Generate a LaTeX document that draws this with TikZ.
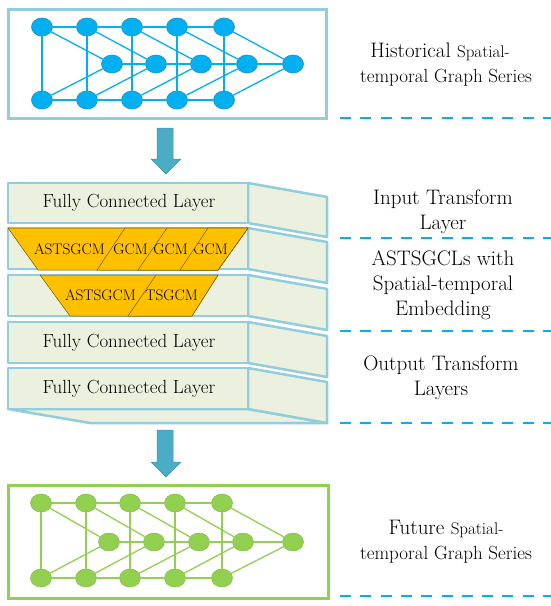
\documentclass[tikz,border=0pt]{standalone}
\usepackage{fontspec}
\usetikzlibrary{shapes.geometric}
\definecolor{frameblue}{RGB}{146,205,221}
\definecolor{layerfill}{RGB}{235,241,222}
\definecolor{nodeblue}{RGB}{0,176,240}
\definecolor{nodeblueline}{RGB}{30,140,200}
\definecolor{nodegreen}{RGB}{146,208,80}
\definecolor{arrowblue}{RGB}{75,172,198}
\definecolor{gcmorange}{RGB}{255,192,0}
\definecolor{dashblue}{RGB}{0,176,240}
\newcommand{\bigsz}{\fontsize{21}{25}\selectfont}
\newcommand{\midsz}{\fontsize{19}{25}\selectfont}
\newcommand{\smlsz}{\fontsize{17}{25}\selectfont}
\tikzset{
  gnode/.style={ellipse, minimum width=21pt, minimum height=18pt, inner sep=0pt},
  bnode/.style={gnode, fill=nodeblue, draw=nodeblueline, line width=0.6pt},
  grnode/.style={gnode, fill=nodegreen, draw=nodegreen!85!black, line width=0.4pt},
  bedge/.style={draw=nodeblue, line width=1.3pt},
  gedge/.style={draw=nodegreen, line width=1.3pt},
  bframe/.style={draw=frameblue, line width=3pt},
  gframe/.style={draw=nodegreen, line width=3pt},
  layerface/.style={fill=layerfill, draw=frameblue, line width=2.5pt, line join=round},
  gcm/.style={fill=gcmorange, draw=black!55!gcmorange, line width=0.5pt},
  sepline/.style={draw=dashblue, line width=2pt, dash pattern=on 11pt off 9.3pt},
  blockarrow/.style={fill=arrowblue, draw=arrowblue!85!black, line width=0.5pt},
  lbl/.style={font=\bigsz, align=center, inner sep=0pt},
  fcl/.style={font=\fontsize{19}{22}\selectfont, inner sep=0pt},
  gcmtext/.style={font=\fontsize{15.3}{18}\selectfont, inner sep=0pt}
}
\begin{document}
\begin{tikzpicture}[x=1pt,y=-1pt]
\useasboundingbox (0,0) rectangle (550,606);
% ---------- top graph ----------
\node[bframe, minimum width=318pt, minimum height=109pt, inner sep=0pt] (topbox) at (167,63.5) {};
\foreach \i/\x in {1/42,2/87,3/132,4/177,5/224}{
  \node[bnode] (ht\i) at (\x,27) {};
  \node[bnode] (hb\i) at (\x,100) {};
}
\foreach \i/\x in {1/112,2/156,3/201,4/247,5/293}{
  \node[bnode] (hm\i) at (\x,64) {};
}
\foreach \i in {1,...,5}{
  \draw[bedge] (ht\i) -- (hb\i);
  \draw[bedge] (ht\i) -- (hm\i);
  \draw[bedge] (hb\i) -- (hm\i);
}
\foreach \i/\j in {1/2,2/3,3/4,4/5}{
  \draw[bedge] (ht\i) -- (ht\j);
  \draw[bedge] (hb\i) -- (hb\j);
  \draw[bedge] (hm\i) -- (hm\j);
}
% ---------- arrows ----------
\draw[blockarrow] (157,128) -- (173,128) -- (173,159) -- (181,159) -- (166,174) -- (151,159) -- (157,159) -- cycle;
\draw[blockarrow] (157,430) -- (173,430) -- (173,462) -- (181,462) -- (166,477) -- (151,462) -- (157,462) -- cycle;
% ---------- layer stack ----------
\draw[layerface] (8,409) -- (248,409) -- (327,423) -- (90,423) -- cycle;
\foreach \t/\b in {183/223,228/269,275/316,322/363,368/409}{
  \draw[layerface] (248,\t) -- (327,\t+14) -- (327,\b+14) -- (248,\b) -- cycle;
  \draw[layerface] (8,\t) rectangle (248,\b);
}
\node[fcl] (fc1) at (129,203) {Fully Connected Layer};
\node[fcl] (fc2) at (129,343) {Fully Connected Layer};
\node[fcl] (fc3) at (129,389) {Fully Connected Layer};
% orange cells, row 1
\foreach \lt/\lb/\tx/\txt in {8/38/105/ASTSGCM,125/97/148/GCM,167/138/188/GCM,208/180/228/GCM}{
  \draw[gcm] (\lt,228) -- (248,228) -- (218,270) -- (\lb,270) -- cycle;
  \begin{scope}
    \clip (\lt,228) -- (248,228) -- (218,270) -- (\lb,270) -- cycle;
    \node[gcmtext, anchor=east] at (\tx,249) {\txt};
  \end{scope}
}
% orange cells, row 2
\foreach \lt/\lb/\tx/\txt in {40/70/136/ASTSGCM,156/128/198/TSGCM}{
  \draw[gcm] (\lt,275) -- (218,275) -- (192,316) -- (\lb,316) -- cycle;
  \begin{scope}
    \clip (\lt,275) -- (218,275) -- (192,316) -- (\lb,316) -- cycle;
    \node[gcmtext, anchor=east] at (\tx,295) {\txt};
  \end{scope}
}
% ---------- bottom graph ----------
\node[gframe, minimum width=320pt, minimum height=113pt, inner sep=0pt] (botbox) at (168,541.5) {};
\foreach \i/\x in {1/41,2/86,3/130,4/175,5/222}{
  \node[grnode] (ft\i) at (\x,503) {};
  \node[grnode] (fb\i) at (\x,578) {};
}
\foreach \i/\x in {1/109,2/154,3/199,4/243,5/293}{
  \node[grnode] (fm\i) at (\x,542) {};
}
\foreach \i in {1,...,5}{
  \draw[gedge] (ft\i) -- (fb\i);
  \draw[gedge] (ft\i) -- (fm\i);
  \draw[gedge] (fb\i) -- (fm\i);
}
\foreach \i/\j in {1/2,2/3,3/4,4/5}{
  \draw[gedge] (ft\i) -- (ft\j);
  \draw[gedge] (fb\i) -- (fb\j);
  \draw[gedge] (fm\i) -- (fm\j);
}
% ---------- separators ----------
\foreach \y/\n in {118/1,238/2,331/3,423/4,596/5}{
  \coordinate (sl\n) at (340,\y);
  \coordinate (sr\n) at (552,\y);
  \draw[sepline] (sl\n) -- (sr\n);
}
% ---------- labels ----------
\node[lbl] (l1) at (446,64.5) {Historical {\smlsz Spatial-}\hspace*{12pt}\\{\midsz temporal Graph Series}};
\node[lbl] (l2) at (443,211.5) {Input Transform\\Layer};
\node[lbl] (l3) at (443,285) {ASTSGCLs with\\Spatial-temporal\\Embedding};
\node[lbl] (l4) at (441,377.5) {Output Transform\\Layers};
\node[lbl] (l5) at (446,542) {Future {\smlsz Spatial-}\\{\midsz temporal Graph Series}};
\end{tikzpicture}
\end{document}
